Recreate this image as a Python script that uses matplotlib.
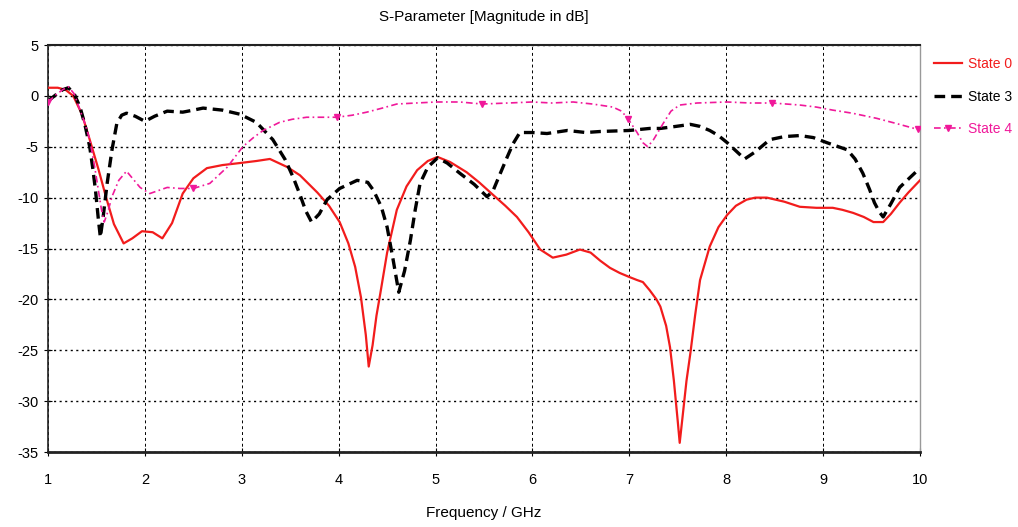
import numpy as np
import matplotlib
matplotlib.use('Agg')
import matplotlib.pyplot as plt

f_state0 = [1.00, 1.10, 1.18, 1.26, 1.35, 1.43, 1.52, 1.60, 1.68, 1.78, 1.87, 1.97, 2.08, 2.18,
            2.28, 2.39, 2.50, 2.64, 2.80, 2.98, 3.15, 3.29, 3.47, 3.60, 3.78, 3.90, 4.01, 4.10,
            4.17, 4.23, 4.28, 4.31, 4.35, 4.39, 4.43, 4.50, 4.60, 4.70, 4.81, 4.92, 5.02, 5.15,
            5.32, 5.45, 5.59, 5.72, 5.84, 5.96, 6.08, 6.21, 6.35, 6.49, 6.60, 6.70, 6.80, 6.90,
            7.00, 7.08, 7.14, 7.21, 7.28, 7.32, 7.38, 7.42, 7.46, 7.50, 7.52, 7.55, 7.59, 7.63,
            7.68, 7.73, 7.83, 7.92, 8.01, 8.10, 8.21, 8.30, 8.42, 8.60, 8.76, 8.93, 9.10, 9.20,
            9.31, 9.42, 9.52, 9.62, 9.70, 9.79, 9.88, 9.98, 10.00]
s_state0 = [0.8, 0.8, 0.6, 0.0, -1.8, -4.3, -7.2, -10.0, -12.6, -14.5, -14.0, -13.3, -13.4, -14.0,
            -12.5, -9.6, -8.1, -7.1, -6.8, -6.6, -6.4, -6.2, -7.0, -7.8, -9.5, -10.8, -12.4, -14.5,
            -16.8, -19.8, -23.5, -26.6, -24.5, -21.6, -19.4, -15.4, -11.2, -8.9, -7.3, -6.4, -6.0, -6.5,
            -7.5, -8.5, -9.7, -10.8, -11.9, -13.4, -15.1, -15.9, -15.6, -15.1, -15.4, -16.2, -16.9, -17.4,
            -17.8, -18.1, -18.3, -19.1, -20.0, -20.7, -22.6, -24.7, -28.0, -32.0, -34.1, -31.5, -28.0, -25.3,
            -21.5, -18.1, -14.8, -12.9, -11.7, -10.8, -10.2, -10.0, -10.0, -10.4, -10.9, -11.0, -11.0, -11.2,
            -11.5, -11.9, -12.4, -12.4, -11.6, -10.5, -9.5, -8.5, -8.3]

f_state3 = [1.00, 1.08, 1.15, 1.21, 1.27, 1.33, 1.38, 1.43, 1.46, 1.49, 1.52, 1.54, 1.57, 1.61,
            1.66, 1.71, 1.76, 1.81, 1.90, 2.00, 2.10, 2.23, 2.39, 2.50, 2.60, 2.80, 2.98, 3.15,
            3.32, 3.45, 3.53, 3.60, 3.66, 3.72, 3.80, 3.88, 4.01, 4.19, 4.30, 4.36, 4.44, 4.50,
            4.56, 4.62, 4.68, 4.74, 4.79, 4.84, 4.92, 5.02, 5.12, 5.25, 5.40, 5.53, 5.59, 5.66,
            5.74, 5.80, 5.87, 6.00, 6.15, 6.36, 6.55, 6.70, 7.00, 7.21, 7.32, 7.48, 7.63, 7.73,
            7.83, 7.92, 8.01, 8.10, 8.19, 8.30, 8.45, 8.60, 8.76, 8.90, 9.04, 9.25, 9.33, 9.41,
            9.48, 9.53, 9.58, 9.62, 9.70, 9.79, 9.90, 10.00]
s_state3 = [-0.5, 0.1, 0.6, 0.8, 0.2, -1.1, -2.8, -5.0, -7.0, -9.3, -12.2, -13.9, -11.8, -8.6,
            -5.3, -2.7, -1.9, -1.7, -2.0, -2.5, -2.0, -1.5, -1.6, -1.4, -1.2, -1.4, -1.8, -2.6,
            -4.3, -6.3, -8.0, -9.7, -11.3, -12.4, -11.6, -10.2, -9.1, -8.3, -8.5, -9.3, -10.9, -12.9,
            -16.0, -19.3, -17.2, -14.2, -11.2, -8.6, -7.0, -6.1, -6.6, -7.6, -8.7, -9.9, -9.4, -7.8,
            -6.0, -4.7, -3.6, -3.6, -3.7, -3.4, -3.6, -3.5, -3.4, -3.2, -3.2, -3.0, -2.8, -3.0,
            -3.4, -3.9, -4.6, -5.4, -6.2, -5.5, -4.3, -4.0, -3.9, -4.1, -4.6, -5.3, -6.2, -7.6,
            -9.2, -10.5, -11.4, -11.9, -10.6, -9.0, -8.0, -7.1]

f_state4 = [1.00, 1.08, 1.15, 1.21, 1.27, 1.33, 1.38, 1.43, 1.48, 1.52, 1.55, 1.58, 1.62, 1.66,
            1.73, 1.81, 1.88, 1.95, 2.05, 2.14, 2.23, 2.36, 2.50, 2.67, 2.76, 2.85, 2.93, 3.01,
            3.12, 3.22, 3.39, 3.52, 3.67, 3.82, 3.98, 4.14, 4.29, 4.45, 4.60, 4.80, 5.01, 5.25,
            5.48, 5.75, 6.00, 6.20, 6.42, 6.62, 6.83, 6.92, 6.99, 7.08, 7.14, 7.19, 7.25, 7.35,
            7.43, 7.52, 7.70, 8.01, 8.25, 8.47, 8.62, 8.76, 8.93, 9.10, 9.30, 9.55, 9.75, 9.98]
s_state4 = [-0.6, 0.1, 0.6, 0.9, 0.2, -1.4, -2.7, -4.3, -6.9, -9.3, -11.1, -12.4, -11.3, -9.9,
            -8.3, -7.4, -8.2, -9.0, -9.6, -9.3, -9.0, -9.1, -9.1, -8.6, -7.8, -7.0, -6.0, -5.0,
            -4.1, -3.4, -2.6, -2.3, -2.1, -2.1, -2.1, -1.9, -1.6, -1.2, -0.8, -0.7, -0.6, -0.6,
            -0.8, -0.7, -0.6, -0.7, -0.6, -0.8, -1.1, -1.5, -2.3, -3.6, -4.6, -5.0, -4.3, -2.7,
            -1.5, -0.9, -0.7, -0.6, -0.7, -0.7, -0.8, -0.9, -1.1, -1.4, -1.7, -2.2, -2.7, -3.3]
marker_freqs = [1.00, 2.50, 3.98, 5.48, 6.99, 8.47, 9.98]

x_ticks = [1, 2, 3, 4, 5, 6, 7, 8, 9, 10]
y_ticks = [5, 0, -5, -10, -15, -20, -25, -30, -35]

# === Style ===
plt.rcParams['font.family'] = ['Liberation Sans', 'DejaVu Sans']
plt.rcParams['font.size'] = 10
plt.rcParams['axes.unicode_minus'] = False

red = '#f21c1c'
pink = '#f0199a'

fig = plt.figure(figsize=(10.18, 5.27), dpi=100)
ax = fig.add_axes([0.0472, 0.1423, 0.8565, 0.7723])

ax.plot(f_state0, s_state0, color=red, lw=1.6, label='State 0', zorder=3)
ax.plot(f_state3, s_state3, color='black', lw=2.4, ls=(0, (3.2, 1.8)), label='State 3', zorder=4)
mk_idx = [int(np.argmin(np.abs(np.array(f_state4) - m))) for m in marker_freqs]
ax.plot(f_state4, s_state4, color=pink, lw=1.2, ls=(0, (4, 2, 1, 2)), marker='v',
        markersize=5, markevery=mk_idx, label='State 4', zorder=5)

ax.set_xlim(1, 10)
ax.set_ylim(-35, 5)
ax.set_xticks(x_ticks)
ax.set_yticks(y_ticks)
ax.tick_params(axis='both', direction='inout', length=6, width=0.8, labelsize=10.5)
ax.tick_params(axis='x', pad=12)
ax.tick_params(axis='y', pad=4)

ax.yaxis.grid(True, color='black', ls=(0, (1.5, 2.5)), lw=1.0)
ax.xaxis.grid(True, color='black', ls=(0, (3, 3)), lw=0.7)

for s in ['left', 'bottom', 'top']:
    ax.spines[s].set_color('#222222')
ax.spines['bottom'].set_linewidth(2.0)
ax.spines['left'].set_linewidth(1.2)
ax.spines['top'].set_linewidth(1.5)
ax.spines['right'].set_color('#999999')
ax.spines['right'].set_linewidth(1.0)

ax.set_title('S-Parameter [Magnitude in dB]', fontsize=11, pad=17)
ax.set_xlabel('Frequency / GHz', fontsize=11, labelpad=14)

fig.legend(loc='upper left', bbox_to_anchor=(0.915, 0.897), frameon=False,
           labelcolor='linecolor', fontsize=10, handlelength=2.0, handletextpad=0.4,
           labelspacing=1.33, borderaxespad=0.0, borderpad=0.2)

fig.savefig('out.png', dpi=100)
